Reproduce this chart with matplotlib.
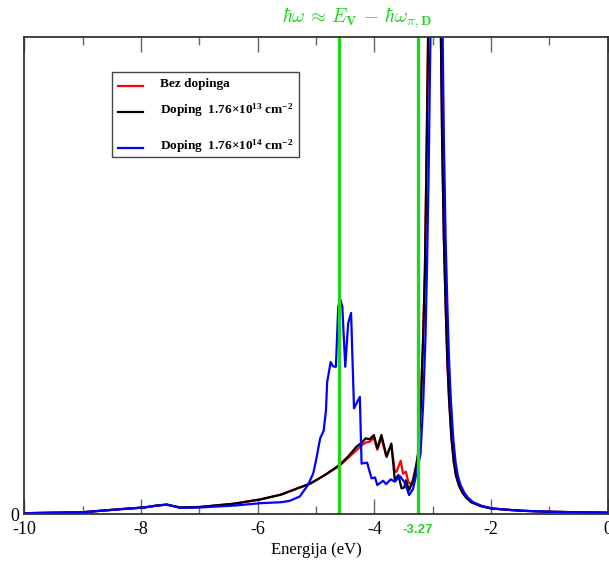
import matplotlib
matplotlib.use("Agg")
import matplotlib.pyplot as plt
from matplotlib.patches import Rectangle
from matplotlib.lines import Line2D
from matplotlib.ticker import MultipleLocator

plt.rcParams['font.family'] = ['Liberation Serif', 'DejaVu Serif']
plt.rcParams['axes.unicode_minus'] = False
plt.rcParams['mathtext.fontset'] = 'custom'
plt.rcParams['mathtext.rm'] = 'Liberation Serif:bold'
plt.rcParams['mathtext.it'] = 'Liberation Serif:bold:italic'
plt.rcParams['mathtext.bf'] = 'Liberation Serif:bold'

# values (energy in eV, intensity in arbitrary units, top of frame = 1)
E_red = [-10.0, -9.0, -8.4, -7.95, -7.73, -7.56, -7.45, -7.33, -7.0, -6.4, -5.95, -5.6,
         -5.3, -5.1, -4.85, -4.6, -4.45, -4.3, -4.2, -4.15, -4.08, -4.01, -3.95, -3.88,
         -3.8, -3.71, -3.65, -3.62, -3.55, -3.51, -3.46, -3.42, -3.36, -3.3, -3.25,
         -3.205, -3.165, -3.135, -3.11, -3.08, -3.02, -2.97, -2.92, -2.86, -2.84, -2.81,
         -2.78, -2.75, -2.72, -2.68, -2.64, -2.60, -2.55, -2.49, -2.43, -2.34, -2.18,
         -2.0, -1.7, -1.45, -1.0, -0.5, 0.0]
I_red = [0.002, 0.004, 0.010, 0.014, 0.018, 0.020, 0.017, 0.014, 0.015, 0.022, 0.031, 0.041,
         0.055, 0.064, 0.082, 0.101, 0.118, 0.135, 0.146, 0.150, 0.152, 0.160, 0.135, 0.160,
         0.122, 0.145, 0.089, 0.089, 0.112, 0.085, 0.089, 0.068, 0.061, 0.085, 0.13,
         0.23, 0.37, 0.51, 0.72, 1.0, 1.7, 3.0, 1.7, 1.0, 0.79, 0.58,
         0.44, 0.32, 0.24, 0.16, 0.11, 0.08, 0.06, 0.045, 0.035, 0.025, 0.017,
         0.012, 0.009, 0.007, 0.005, 0.004, 0.003]

E_black = [-10.0, -9.0, -8.4, -7.95, -7.73, -7.56, -7.45, -7.33, -7.0, -6.4, -5.95, -5.6,
           -5.3, -5.1, -4.85, -4.6, -4.45, -4.31, -4.2, -4.15, -4.08, -4.01, -3.95, -3.88,
           -3.79, -3.71, -3.65, -3.59, -3.535, -3.49, -3.46, -3.405, -3.34, -3.28, -3.25,
           -3.205, -3.165, -3.135, -3.11, -3.08, -3.02, -2.97, -2.92, -2.86, -2.84, -2.81,
           -2.78, -2.75, -2.72, -2.68, -2.64, -2.60, -2.55, -2.49, -2.43, -2.34, -2.18,
           -2.0, -1.7, -1.45, -1.0, -0.5, 0.0]
I_black = [0.002, 0.004, 0.010, 0.014, 0.018, 0.020, 0.017, 0.014, 0.015, 0.022, 0.031, 0.041,
           0.055, 0.064, 0.082, 0.103, 0.121, 0.141, 0.152, 0.159, 0.157, 0.166, 0.138, 0.166,
           0.120, 0.148, 0.071, 0.082, 0.054, 0.056, 0.071, 0.050, 0.071, 0.105, 0.126,
           0.23, 0.37, 0.51, 0.72, 1.0, 1.7, 3.0, 1.7, 1.0, 0.79, 0.58,
           0.44, 0.32, 0.24, 0.16, 0.11, 0.08, 0.06, 0.045, 0.035, 0.025, 0.017,
           0.012, 0.009, 0.007, 0.005, 0.004, 0.003]

E_blue = [-10.0, -9.0, -8.4, -7.95, -7.73, -7.56, -7.45, -7.33, -7.0, -6.4, -5.95, -5.6,
          -5.45, -5.28, -5.14, -5.05, -5.0, -4.93, -4.87, -4.83, -4.81, -4.75, -4.71, -4.66,
          -4.62, -4.58, -4.55, -4.5, -4.45, -4.4, -4.35, -4.25, -4.22, -4.125, -4.05, -3.99,
          -3.95, -3.85, -3.8, -3.72, -3.65, -3.565, -3.48, -3.405, -3.34, -3.28, -3.21,
          -3.165, -3.125, -3.1, -3.07, -3.04, -2.99, -2.94, -2.89, -2.83, -2.81, -2.78,
          -2.75, -2.72, -2.69, -2.65, -2.61, -2.57, -2.52, -2.46, -2.40, -2.31, -2.15,
          -1.98, -1.7, -1.45, -1.0, -0.5, 0.0]
I_blue = [0.002, 0.004, 0.010, 0.014, 0.018, 0.020, 0.017, 0.013, 0.014, 0.018, 0.023, 0.025,
          0.028, 0.037, 0.061, 0.085, 0.113, 0.159, 0.175, 0.218, 0.277, 0.319, 0.310, 0.309,
          0.435, 0.449, 0.435, 0.309, 0.400, 0.422, 0.222, 0.246, 0.106, 0.108, 0.075, 0.077,
          0.061, 0.070, 0.063, 0.073, 0.068, 0.080, 0.066, 0.040, 0.052, 0.085, 0.126,
          0.23, 0.37, 0.51, 0.72, 1.0, 1.7, 3.0, 1.7, 1.0, 0.79, 0.58,
          0.44, 0.32, 0.24, 0.16, 0.11, 0.08, 0.06, 0.045, 0.035, 0.025, 0.017,
          0.012, 0.009, 0.007, 0.005, 0.004, 0.003]

green_lines = [-4.61, -3.25]
green_label = "-3.27"
x_ticks = [-10, -8, -6, -4, -2, 0]
labels = ["Bez dopinga",
          "Doping  1.76×10$^{13}$ cm$^{-2}$",
          "Doping  1.76×10$^{14}$ cm$^{-2}$"]

green = '#22d322'

fig = plt.figure(figsize=(6.09, 5.65), dpi=100)
ax = fig.add_axes([0.040, 0.090, 0.958, 0.844])

ax.plot(E_red, I_red, color='#ff0000', lw=1.6)
ax.plot(E_black, I_black, color='black', lw=1.6)
ax.plot(E_blue, I_blue, color='#0000ff', lw=1.6)
for xv in green_lines:
    ax.axvline(xv, color=green, lw=2.4)

ax.set_xlim(-10, 0)
ax.set_ylim(0, 1)
ax.set_xticks(x_ticks)
ax.set_xticklabels([str(t) for t in x_ticks])
ax.xaxis.set_minor_locator(MultipleLocator(1))
ax.set_yticks([0])
ax.set_yticklabels(['0'])
ax.tick_params(axis='x', which='major', direction='in', top=True, length=10.5,
               width=1, color='#666666', labelsize=13, pad=5)
ax.tick_params(axis='x', which='minor', direction='in', top=True, length=5.5,
               width=1, color='#666666')
ax.tick_params(axis='y', length=0, labelsize=13, pad=4)
for s in ax.spines.values():
    s.set_color('#333333')
    s.set_linewidth(1.3)

ax.set_xlabel("Energija (eV)", fontsize=12, labelpad=3)

ax.text(green_lines[1], -0.02, green_label, transform=ax.get_xaxis_transform(),
        ha='center', va='top', color=green, fontsize=9.5, fontweight='bold',
        family=['Liberation Sans Narrow', 'Liberation Sans'])

fig.text(0.586, 0.968, r'$\hbar\omega\,\approx\,E_{\mathbf{V}}\,-\,\hbar\omega_{\pi,\mathbf{D}}$',
         color=green, fontsize=14, ha='center', va='center', math_fontfamily='cm')

# hand-placed legend box
ax.add_patch(Rectangle((0.151, 0.748), 0.320, 0.179, transform=ax.transAxes,
                       fill=False, edgecolor='#444444', lw=1.0, zorder=5))
rows = [0.897, 0.844, 0.767]
cols = ['#ff0000', 'black', '#0000ff']
for yr, c, lab in zip(rows, cols, labels):
    ax.add_line(Line2D([0.160, 0.203], [yr, yr], transform=ax.transAxes, color=c, lw=1.6))
    ax.text(0.232, yr + 0.004, lab, transform=ax.transAxes, fontsize=9.5,
            fontweight='bold', va='center', ha='left')

fig.savefig("out.png", dpi=100)
